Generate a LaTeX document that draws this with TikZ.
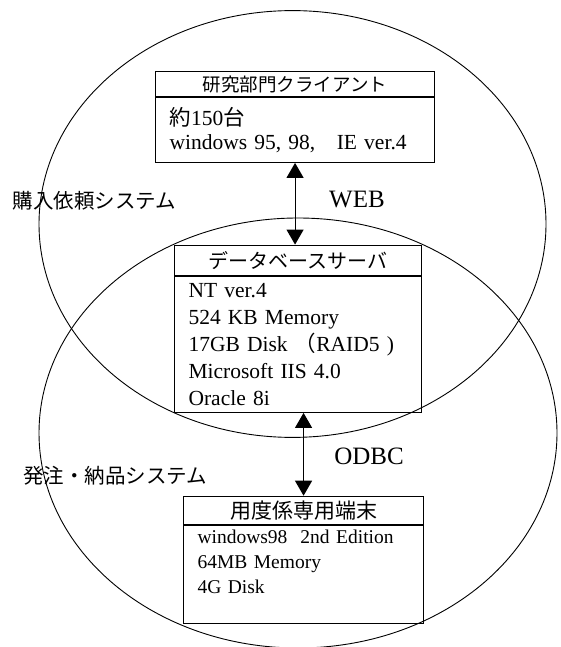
\documentclass[tikz,border=0pt]{standalone}
\usepackage{fontspec}
\setmainfont{Liberation Serif}
\newfontfamily\jp{Noto Sans CJK JP}
\usetikzlibrary{positioning,arrows.meta}

\begin{document}
\begin{tikzpicture}[x=1pt, y=-1pt, every node/.style={inner sep=0pt},
    ring/.style={line width=0.9pt},
    head/.style={draw, line width=1.1pt, anchor=north west},
    body/.style={draw, line width=1.1pt, align=left, inner xsep=14pt},
    link/.style={line width=1.1pt, {Triangle[length=15pt,width=17pt]}-{Triangle[length=15pt,width=17pt]}},
    tag/.style={font=\fontsize{25}{30}\selectfont},
    sys/.style={anchor=west, font=\jp\fontsize{20.5}{24}\selectfont}]
  \useasboundingbox (0,0) rectangle (560,647);
  \foreach \cx/\cy/\rx/\ry in {292.5/224/253.5/213.4, 298/433/259/215}
    \draw[ring] (\cx,\cy) ellipse ({\rx} and {\ry});

  \node[head, minimum width=279pt, minimum height=24.3pt, font=\jp\fontsize{18.5}{22}\selectfont]
    (clhead) at (155,71.4) {研究部門クライアント};
  \node[body, below=0pt of clhead, minimum height=65pt, text width=251pt, font=\fontsize{21.5}{24}\selectfont]
    (clbody) {{\jp 約}150{\jp 台}\\windows 95, 98,{\jp 　}IE ver.4};

  \node[head, minimum width=247pt, minimum height=30.4pt, font=\jp\fontsize{20}{24}\selectfont]
    (dbhead) at (174,244.6) {データベースサーバ};
  \node[body, below=0pt of dbhead, minimum height=135.7pt, text width=219pt, font=\fontsize{21.5}{27}\selectfont]
    (dbbody) {NT ver.4\\524 KB Memory\\17GB Disk {\jp （}RAID5 )\\Microsoft IIS 4.0\\Oracle 8i};

  \node[head, minimum width=240pt, minimum height=28.3pt, font=\jp\fontsize{21}{24}\selectfont]
    (tmhead) at (183,495.7) {用度係専用端末};
  \node[body, below=0pt of tmhead, minimum height=98pt, text width=212pt, font=\fontsize{19.5}{25}\selectfont]
    (tmbody) {windows98~ 2nd Edition\\64MB Memory\\4G Disk\\\mbox{}};

  \draw[link] (clbody.south) -- (clbody.south |- dbhead.north);
  \draw[link] (dbbody.south -| tmhead.north) -- (tmhead.north);

  \node[tag] (web) at (357,200) {WEB};
  \node[tag] (odbc) at (369,456) {ODBC};
  \node[sys] (purchase) at (12.5,201) {購入依頼システム};
  \node[sys] (ordering) at (23,476) {発注・納品システム};
\end{tikzpicture}
\end{document}
